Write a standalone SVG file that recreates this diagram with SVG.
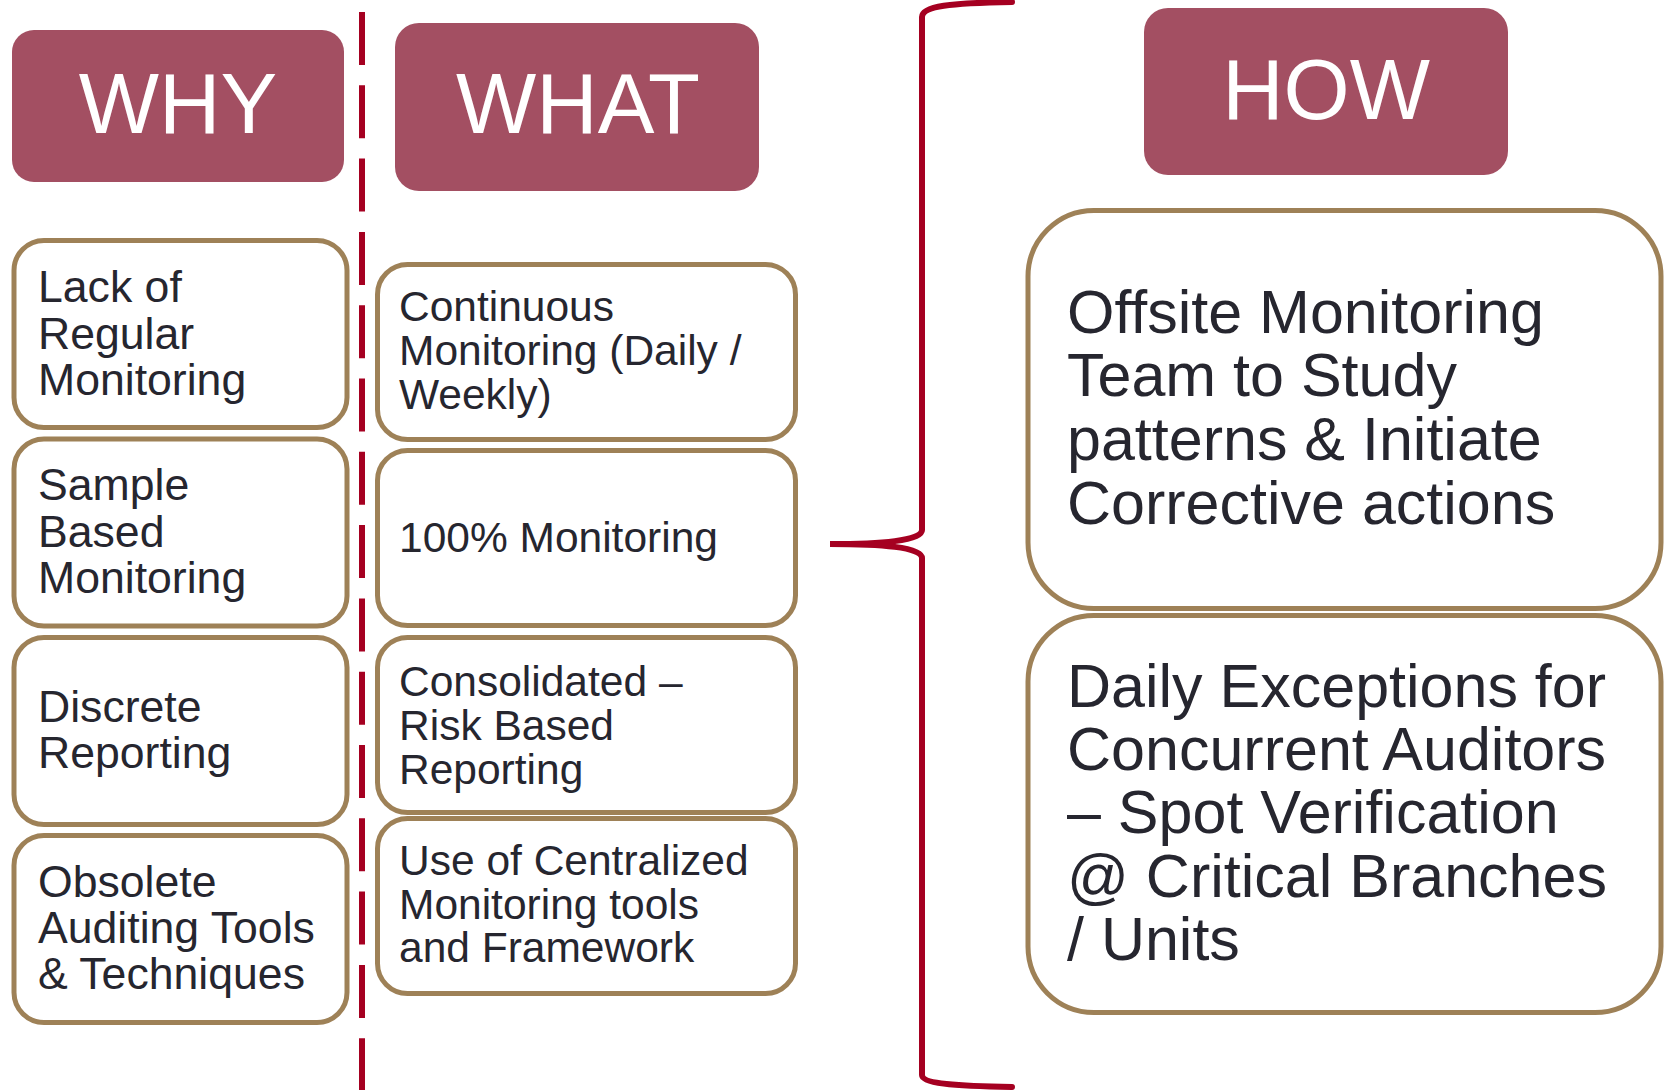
<svg xmlns="http://www.w3.org/2000/svg" width="1665" height="1090" viewBox="0 0 1665 1090">
<style>
.hdr{fill:#A34F62;}
.hdrtxt{fill:#FFFFFF;font-family:"Liberation Sans",Arial,sans-serif;font-size:85px;text-anchor:middle;}
.box{fill:#FFFFFF;stroke:#9E8157;stroke-width:5;}
.t44{fill:#26262F;font-family:"Liberation Sans",Arial,sans-serif;font-size:44.6px;}
.t42{fill:#26262F;font-family:"Liberation Sans",Arial,sans-serif;font-size:42.5px;}
.t61{fill:#26262F;font-family:"Liberation Sans",Arial,sans-serif;font-size:61px;}
.red{fill:none;stroke:#A50021;stroke-width:6;}
</style>
<rect width="1665" height="1090" fill="#FFFFFF"/>
<g id="connectors">
<line class="red" x1="362" y1="12" x2="362" y2="1090" stroke-dasharray="53 20.3"/>
<path class="red" stroke-linecap="round" d="M 1012,2 C 950,3 922,6 922,17 L 922,530 C 922,541 880,544 830,544 C 880,544 922,547 922,558 L 922,1075 C 922,1083 950,1086 1012,1087"/>
</g>
<g id="why">
<rect class="hdr" x="12" y="30" width="332" height="152" rx="22"/>
<text class="hdrtxt" x="178" y="133">WHY</text>
</g>
<g id="what">
<rect class="hdr" x="395" y="23" width="364" height="168" rx="24"/>
<text class="hdrtxt" x="578" y="133">WHAT</text>
</g>
<g id="how">
<rect class="hdr" x="1144" y="8" width="364" height="167" rx="24"/>
<text class="hdrtxt" x="1326" y="119">HOW</text>
</g>
<g id="why1">
<rect class="box" x="14" y="240.5" width="333" height="187" rx="30"/>
<text class="t44" x="38" y="302">Lack of</text>
<text class="t44" x="38" y="348.5">Regular</text>
<text class="t44" x="38" y="395">Monitoring</text>
</g>
<g id="why2">
<rect class="box" x="14" y="439" width="333" height="187" rx="30"/>
<text class="t44" x="38" y="500">Sample</text>
<text class="t44" x="38" y="546.5">Based</text>
<text class="t44" x="38" y="593">Monitoring</text>
</g>
<g id="why3">
<rect class="box" x="14" y="637.5" width="333" height="187" rx="30"/>
<text class="t44" x="38" y="721.5">Discrete</text>
<text class="t44" x="38" y="768">Reporting</text>
</g>
<g id="why4">
<rect class="box" x="14" y="835.5" width="333" height="187" rx="30"/>
<text class="t44" x="38" y="896.5">Obsolete</text>
<text class="t44" x="38" y="942.5">Auditing Tools</text>
<text class="t44" x="38" y="988.5">&amp; Techniques</text>
</g>
<g id="what1">
<rect class="box" x="377.5" y="264.5" width="418" height="175" rx="30"/>
<text class="t42" x="399" y="321">Continuous</text>
<text class="t42" x="399" y="365">Monitoring (Daily /</text>
<text class="t42" x="399" y="409">Weekly)</text>
</g>
<g id="what2">
<rect class="box" x="377.5" y="450.5" width="418" height="175" rx="30"/>
<text class="t42" x="399" y="551.5">100% Monitoring</text>
</g>
<g id="what3">
<rect class="box" x="377.5" y="637.5" width="418" height="175" rx="30"/>
<text class="t42" x="399" y="695.5">Consolidated –</text>
<text class="t42" x="399" y="739.5">Risk Based</text>
<text class="t42" x="399" y="783.5">Reporting</text>
</g>
<g id="what4">
<rect class="box" x="377.5" y="818.5" width="418" height="175" rx="30"/>
<text class="t42" x="399" y="875">Use of Centralized</text>
<text class="t42" x="399" y="918.5">Monitoring tools</text>
<text class="t42" x="399" y="962">and Framework</text>
</g>
<g id="how1">
<rect class="box" x="1028" y="210.5" width="633" height="398" rx="66"/>
<text class="t61" x="1067" y="333">Offsite Monitoring</text>
<text class="t61" x="1067" y="396">Team to Study</text>
<text class="t61" x="1067" y="460">patterns &amp; Initiate</text>
<text class="t61" x="1067" y="523.5">Corrective actions</text>
</g>
<g id="how2">
<rect class="box" x="1028" y="615.5" width="633" height="397" rx="66"/>
<text class="t61" x="1067" y="707">Daily Exceptions for</text>
<text class="t61" x="1067" y="770">Concurrent Auditors</text>
<text class="t61" x="1067" y="833">– Spot Verification</text>
<text class="t61" x="1067" y="896.5">@ Critical Branches</text>
<text class="t61" x="1067" y="960">/ Units</text>
</g>
</svg>
